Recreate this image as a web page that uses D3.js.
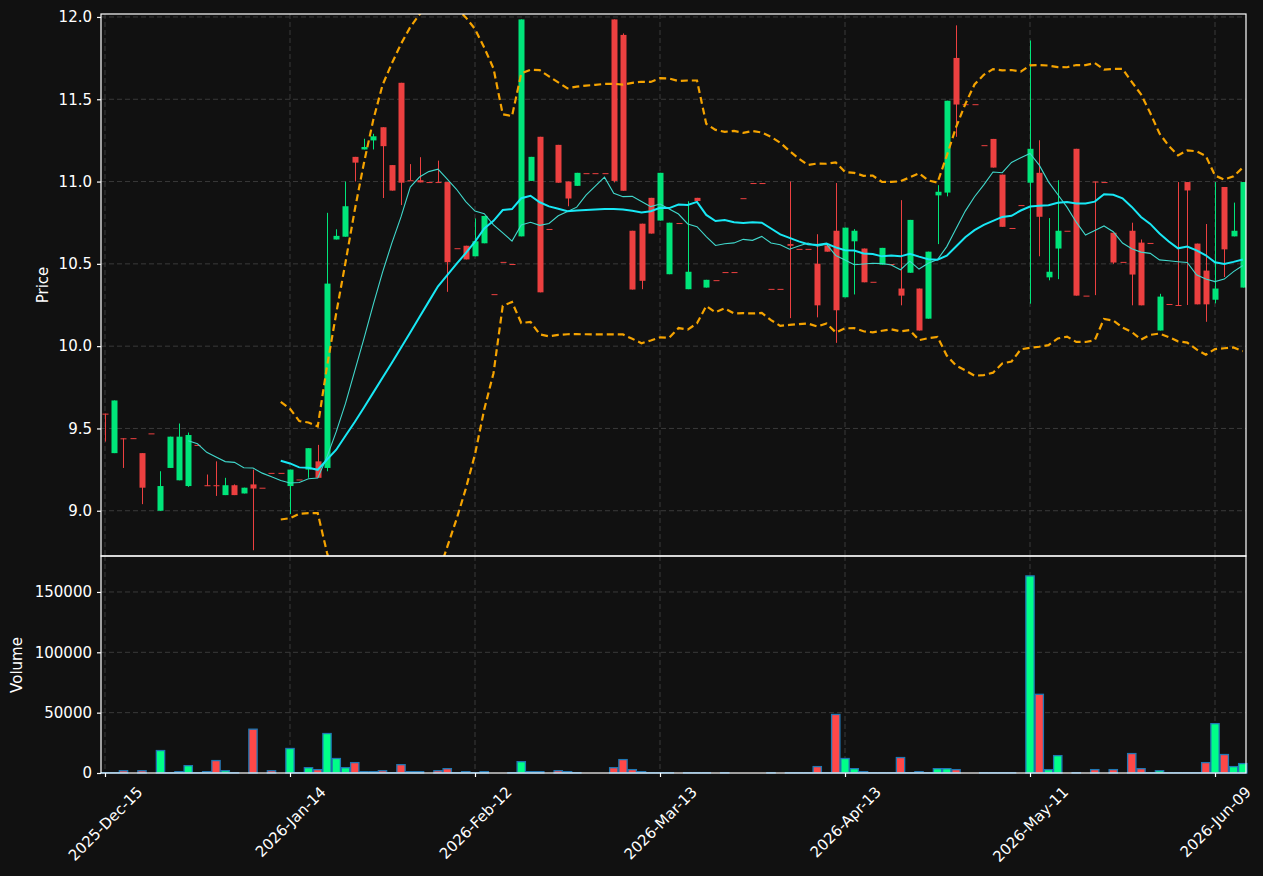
<!DOCTYPE html>
<html>
<head>
<meta charset="utf-8">
<script src="https://cdn.jsdelivr.net/npm/d3@7"></script>
<style>
  body { margin: 0; background: #111111; }
  svg { display: block; }
  text { font-family: "DejaVu Sans", sans-serif; fill: #ffffff; }
</style>
</head>
<body>
<div id="chart"></div>
<script>
// daily OHLCV, one entry per trading day (index 0 = 2025-12-15)
var opens = [9.59,9.35,9.44,9.441,9.35,9.47,9.00,9.26,9.185,9.15,
  9.40,9.155,9.155,9.095,9.155,9.105,9.16,9.14,9.23,9.23,
  9.15,9.19,9.25,9.30,9.26,10.648,10.665,11.15,11.195,11.25,
  11.33,11.10,11.60,11.008,11.008,10.997,10.997,10.997,10.595,10.61,
  10.546,10.625,10.316,10.512,10.499,10.667,11.004,11.272,10.712,11.223,
  11.0,10.974,11.051,11.051,11.051,11.985,11.891,10.701,10.744,10.901,
  10.763,10.437,10.748,10.346,10.901,10.356,10.401,10.45,10.45,10.899,
  10.991,10.991,10.348,10.348,10.62,10.591,10.591,10.501,10.612,10.701,
  10.297,10.637,10.593,10.391,10.495,10.499,10.35,10.446,10.35,10.167,
  10.916,10.933,11.751,11.47,11.47,11.221,11.259,11.042,10.718,10.857,
  10.993,11.053,10.418,10.593,10.701,11.199,10.307,11.0,10.997,10.689,
  10.512,10.701,10.629,10.627,10.095,10.256,10.25,10.997,10.623,10.459,
  10.282,10.967,10.667,10.356];
var highs = [9.59,9.67,9.44,9.441,9.35,9.47,9.24,9.45,9.53,9.475,
  9.40,9.22,9.30,9.20,9.16,9.14,9.25,9.14,9.23,9.23,
  9.25,9.19,9.38,9.40,10.81,10.71,11.0,11.15,11.26,11.29,
  11.33,11.10,11.60,11.106,11.148,10.997,11.127,10.997,10.595,10.61,
  10.776,10.791,10.316,10.512,10.499,11.985,11.15,11.272,10.712,11.223,
  11.0,11.053,11.051,11.051,11.051,11.985,11.90,10.701,10.744,10.901,
  11.053,10.75,10.748,10.88,10.901,10.403,10.401,10.45,10.45,10.899,
  10.991,10.991,10.348,10.348,11.0,10.591,10.591,10.68,10.612,10.991,
  10.72,10.711,10.593,10.391,10.597,10.499,10.887,10.767,10.35,10.574,
  10.978,11.491,11.949,11.47,11.47,11.221,11.259,11.042,10.718,10.857,
  11.857,11.251,10.778,11.008,10.701,11.199,10.307,11.0,10.997,10.689,
  10.512,10.75,10.648,10.627,10.318,10.256,10.997,10.997,10.623,10.742,
  10.997,10.967,10.872,10.997];
var lows = [9.42,9.35,9.26,9.439,9.04,9.47,9.00,9.26,9.185,9.145,
  9.40,9.15,9.09,9.095,9.095,9.105,8.76,9.14,9.23,9.23,
  8.98,9.19,9.20,9.20,9.24,10.648,10.665,11.0,11.195,11.195,
  10.90,10.945,10.857,11.008,10.995,10.997,10.997,10.33,10.595,10.527,
  10.546,10.625,10.316,10.512,10.499,10.667,11.004,10.327,10.712,10.993,
  10.85,10.974,11.051,11.051,11.051,10.995,10.944,10.344,10.346,10.684,
  10.763,10.437,10.748,10.346,10.882,10.356,10.401,10.45,10.45,10.899,
  10.991,10.991,10.348,10.348,10.17,10.591,10.591,10.175,10.574,10.02,
  10.297,10.314,10.388,10.391,10.495,10.499,10.248,10.446,10.095,10.167,
  10.62,10.91,11.272,11.47,11.47,11.221,11.085,10.725,10.718,10.857,
  10.258,10.546,10.40,10.407,10.701,10.307,10.307,10.31,10.997,10.50,
  10.512,10.248,10.248,10.627,10.095,10.256,10.25,10.25,10.254,10.148,
  10.26,10.42,10.667,10.356];
var closes = [9.585,9.67,9.435,9.439,9.14,9.47,9.15,9.45,9.45,9.46,
  9.40,9.155,9.155,9.155,9.095,9.14,9.135,9.14,9.23,9.23,
  9.25,9.19,9.38,9.20,10.38,10.67,10.85,11.115,11.21,11.275,
  11.215,10.945,10.993,11.008,10.995,10.997,10.997,10.51,10.595,10.527,
  10.637,10.791,10.316,10.512,10.499,11.985,11.15,10.327,10.712,10.993,
  10.897,11.053,11.051,11.051,11.051,11.004,10.944,10.344,10.397,10.684,
  11.053,10.75,10.748,10.452,10.882,10.403,10.401,10.45,10.45,10.899,
  10.991,10.991,10.348,10.348,10.61,10.591,10.591,10.248,10.574,10.218,
  10.72,10.701,10.388,10.391,10.597,10.499,10.307,10.767,10.095,10.574,
  10.938,11.491,11.468,11.47,11.47,11.221,11.085,10.725,10.718,10.857,
  11.199,10.786,10.452,10.701,10.701,10.307,10.307,10.997,10.997,10.508,
  10.512,10.435,10.248,10.627,10.301,10.256,10.25,10.946,10.254,10.254,
  10.35,10.588,10.701,10.997];
var volumes = [300,300,1900,0,1900,0,18600,300,1100,6100,
  300,1100,10300,1900,300,0,36300,0,1900,0,
  20300,300,4400,2800,32700,12000,4400,8600,1100,1100,
  1900,300,6900,1100,1100,0,1900,3600,300,1100,
  300,1100,0,0,300,9400,1100,1100,0,1900,
  1100,300,0,0,0,4400,11100,2800,1100,300,
  300,300,0,300,300,300,0,300,0,0,
  0,0,300,0,300,300,300,5300,300,48500,
  12000,3600,1100,300,300,300,12800,300,1100,300,
  3600,3600,2800,0,0,300,300,300,300,0,
  163300,65200,2800,14400,0,300,0,2800,0,2800,
  0,16100,3600,300,1900,300,300,300,300,8600,
  40900,15300,5300,7800];

var tickIdx = [0, 20, 40, 60, 80, 100, 120];
var tickLabels = ["2025-Dec-15", "2026-Jan-14", "2026-Feb-12", "2026-Mar-13",
                  "2026-Apr-13", "2026-May-11", "2026-Jun-09"];
var priceTicks = [9.0, 9.5, 10.0, 10.5, 11.0, 11.5, 12.0];
var volTicks = [0, 50000, 100000, 150000];

var W = 1263, H = 876;
var pLeft = 101, pRight = 1246, pTop = 14, pSplit = 556, pBottom = 773;
var fs = "15px";

var upColor = "#00e57a", downColor = "#ec4040";
var volUp = "#00ff88", volDown = "#ff4848";

var svg = d3.select("#chart").append("svg")
    .attr("width", W).attr("height", H)
    .style("background", "#111111");

var n = closes.length;
var data = d3.range(n).map(function(i) {
    return { i: i, o: opens[i], h: highs[i], l: lows[i], c: closes[i], v: volumes[i] };
});

var x = d3.scaleLinear().domain([-0.432, 123.35]).range([pLeft, pRight]);
var y = d3.scaleLinear().domain([8.725, 12.018]).range([pSplit, pTop]);
var yv = d3.scaleLinear().domain([0, 179800]).range([pBottom, pSplit]);

// rolling stats on closes
function rolling(win) {
    return data.map(function(d, i) {
        if (i < win - 1) return null;
        var s = closes.slice(i - win + 1, i + 1);
        var m = d3.mean(s);
        var sd = d3.deviation(s);
        return { i: i, m: m, up: m + 2 * sd, lo: m - 2 * sd };
    });
}
var r20 = rolling(20);
var r10 = rolling(10);

var defs = svg.append("defs");
defs.append("clipPath").attr("id", "clipP").append("rect")
    .attr("x", pLeft).attr("y", pTop).attr("width", pRight - pLeft).attr("height", pSplit - pTop);

var gridColor = "#3a3a3a";

// grids
var g = svg.append("g");
priceTicks.forEach(function(t) {
    g.append("line").attr("x1", pLeft).attr("x2", pRight)
        .attr("y1", y(t)).attr("y2", y(t))
        .attr("stroke", gridColor).attr("stroke-dasharray", "5,3").attr("stroke-width", 1);
});
volTicks.slice(1).forEach(function(t) {
    g.append("line").attr("x1", pLeft).attr("x2", pRight)
        .attr("y1", yv(t)).attr("y2", yv(t))
        .attr("stroke", gridColor).attr("stroke-dasharray", "5,3").attr("stroke-width", 1);
});
tickIdx.forEach(function(t) {
    [[pTop, pSplit], [pSplit, pBottom]].forEach(function(p) {
        g.append("line").attr("x1", x(t)).attr("x2", x(t))
            .attr("y1", p[0]).attr("y2", p[1])
            .attr("stroke", gridColor).attr("stroke-dasharray", "5,3").attr("stroke-width", 1);
    });
});

// candles
var cg = svg.append("g").attr("clip-path", "url(#clipP)");
var bw = 5;
cg.selectAll("line.wick").data(data).enter().append("line")
    .attr("x1", function(d) { return Math.round(x(d.i)) + 0.5; })
    .attr("x2", function(d) { return Math.round(x(d.i)) + 0.5; })
    .attr("y1", function(d) { return y(d.h); })
    .attr("y2", function(d) { return y(d.l); })
    .attr("stroke", function(d) { return d.c > d.o ? upColor : downColor; })
    .attr("stroke-width", 1);
cg.selectAll("rect.body").data(data).enter().append("rect")
    .attr("x", function(d) { return Math.round(x(d.i)) + 0.5 - bw / 2 - 0.5; })
    .attr("width", bw + 1)
    .attr("y", function(d) { return y(Math.max(d.o, d.c)); })
    .attr("height", function(d) { return Math.max(1, Math.abs(y(d.o) - y(d.c))); })
    .attr("fill", function(d) { return d.c > d.o ? upColor : downColor; });

// overlays
var lineMid = d3.line().defined(function(d) { return d; })
    .x(function(d) { return x(d.i); }).y(function(d) { return y(d.m); });
var lineUp = d3.line().defined(function(d) { return d; })
    .x(function(d) { return x(d.i); }).y(function(d) { return y(d.up); });
var lineLo = d3.line().defined(function(d) { return d; })
    .x(function(d) { return x(d.i); }).y(function(d) { return y(d.lo); });

cg.append("path").datum(r10).attr("d", lineMid)
    .attr("fill", "none").attr("stroke", "#40d8cc").attr("stroke-width", 1.1);
cg.append("path").datum(r20).attr("d", lineMid)
    .attr("fill", "none").attr("stroke", "#18e8f5").attr("stroke-width", 2);
[lineUp, lineLo].forEach(function(ln) {
    cg.append("path").datum(r20).attr("d", ln)
        .attr("fill", "none").attr("stroke", "#f5a300").attr("stroke-width", 2.2)
        .attr("stroke-dasharray", "7,4");
});

// volume bars
var vbw = 8.3;
svg.append("g").selectAll("rect").data(data.filter(function(d) { return d.v > 0; }))
    .enter().append("rect")
    .attr("x", function(d) { return x(d.i) - vbw / 2; })
    .attr("width", vbw)
    .attr("y", function(d) { return yv(d.v); })
    .attr("height", function(d) { return pBottom - yv(d.v); })
    .attr("fill", function(d) { return d.c > d.o ? volUp : volDown; })
    .attr("stroke", "#1f77b4").attr("stroke-width", 1.3);

// frames
var fr = svg.append("g").attr("fill", "none").attr("stroke", "#ffffff").attr("stroke-width", 1.2);
fr.append("rect").attr("x", pLeft).attr("y", pTop).attr("width", pRight - pLeft).attr("height", pSplit - pTop);
fr.append("rect").attr("x", pLeft).attr("y", pSplit).attr("width", pRight - pLeft).attr("height", pBottom - pSplit);

// y axes
var ay = svg.append("g").attr("transform", "translate(" + pLeft + ",0)")
    .call(d3.axisLeft(y).tickValues(priceTicks).tickFormat(d3.format(".1f")).tickSize(4).tickPadding(5));
var av = svg.append("g").attr("transform", "translate(" + pLeft + ",0)")
    .call(d3.axisLeft(yv).tickValues(volTicks).tickFormat(d3.format("d")).tickSize(4).tickPadding(5));
var ax = svg.append("g").attr("transform", "translate(0," + pBottom + ")")
    .call(d3.axisBottom(x).tickValues(tickIdx).tickFormat(function(d, k) { return tickLabels[k]; }).tickSize(4));

[ay, av, ax].forEach(function(a) {
    a.attr("font-size", null).attr("font-family", null);
    a.select(".domain").remove();
    a.selectAll(".tick line").attr("stroke", "#ffffff").attr("stroke-width", 1.2);
    a.selectAll(".tick text").attr("fill", "#ffffff").style("font-size", fs)
        .style("font-family", "DejaVu Sans, sans-serif");
});

// rotated date labels, centred under the tick like matplotlib rotation=45
ax.selectAll(".tick text").each(function() {
    var t = d3.select(this);
    var w = this.getComputedTextLength();
    var hh = (w + 15) * Math.SQRT1_2;
    t.attr("text-anchor", "middle").attr("dy", "0.35em")
        .attr("y", 0).attr("x", 0)
        .attr("transform", "translate(0," + (11 + hh / 2) + ") rotate(-45)");
});

// axis titles
svg.append("text").attr("transform", "translate(48,285) rotate(-90)")
    .attr("text-anchor", "middle").style("font-size", fs).text("Price");
svg.append("text").attr("transform", "translate(22,665) rotate(-90)")
    .attr("text-anchor", "middle").style("font-size", fs).text("Volume");
</script>
</body>
</html>
